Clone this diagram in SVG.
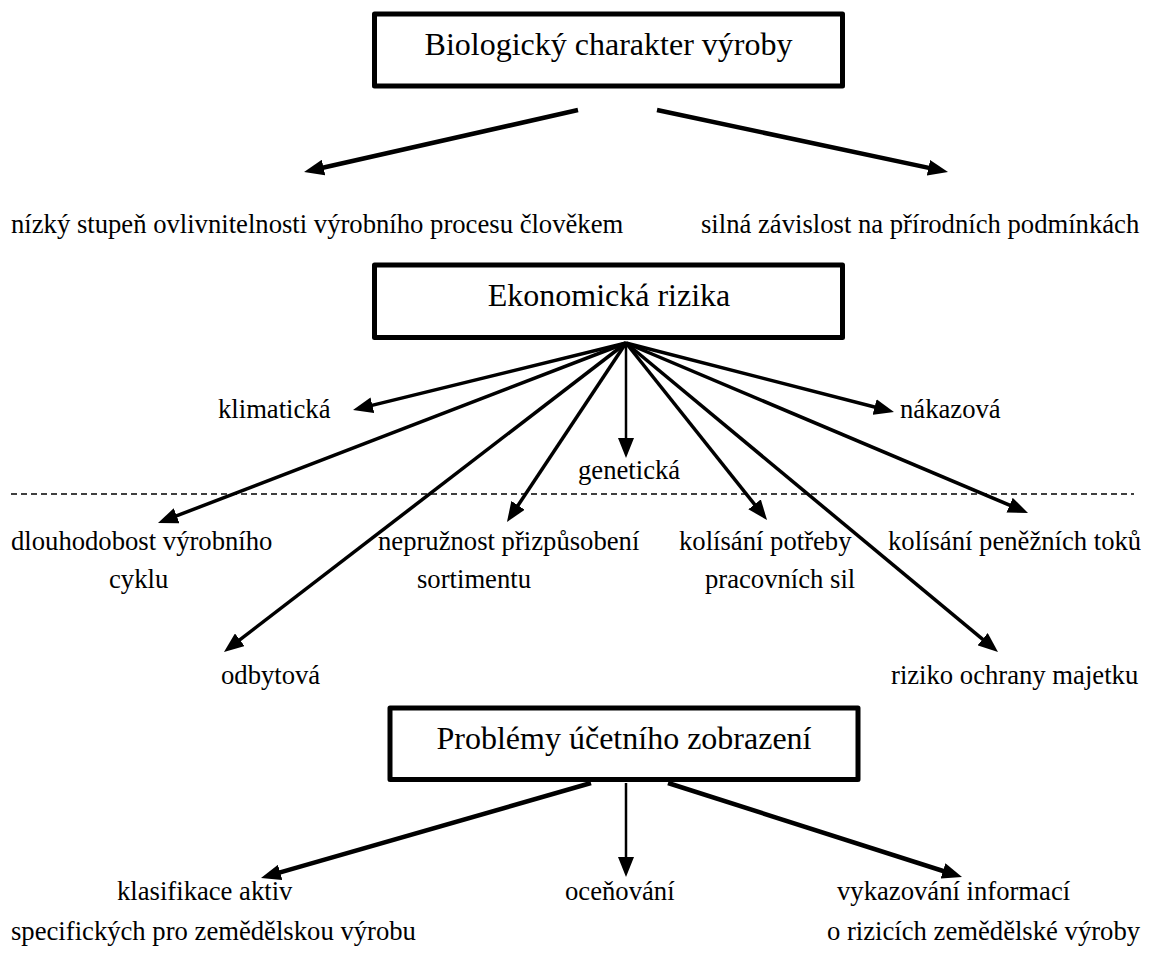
<svg xmlns="http://www.w3.org/2000/svg" width="1151" height="953" viewBox="0 0 1151 953">
<style>
.box{fill:#fff;stroke:#000;stroke-width:5;stroke-linejoin:round}
.title{font-family:"Liberation Serif","Times New Roman",serif;font-size:32px;fill:#000;text-anchor:middle}
.lbl{font-family:"Liberation Serif","Times New Roman",serif;font-size:26.67px;fill:#000}
.c{stroke:#000;fill:none;stroke-width:3.5;marker-end:url(#ah)}
.thick{stroke-width:4.5}
.thin{stroke-width:2.5}
.dash{stroke:#000;stroke-width:1.5;stroke-dasharray:6 4;fill:none}
</style>
<defs>
<marker id="ah" viewBox="0 0 20 16" refX="10" refY="8" markerWidth="20" markerHeight="16" markerUnits="userSpaceOnUse" orient="auto">
<path d="M0,0 L20,8 L0,16 z" fill="#000"/>
</marker>
</defs>
<g id="connectors">
<line class="c thick" x1="578" y1="110" x2="313.8" y2="169.8"/>
<line class="c thick" x1="657" y1="110" x2="938.2" y2="169.9"/>
<line class="c" x1="626" y1="343" x2="362.7" y2="407.6"/>
<line class="c" x1="626" y1="343" x2="167.3" y2="519.4"/>
<line class="c" x1="626" y1="343" x2="231.9" y2="645.9"/>
<line class="c" x1="626" y1="343" x2="512.5" y2="513.7"/>
<line class="c thin" x1="626" y1="343" x2="626" y2="448"/>
<line class="c" x1="626" y1="343" x2="760.8" y2="512.2"/>
<line class="c" x1="626" y1="343" x2="990.3" y2="645.6"/>
<line class="c" x1="626" y1="343" x2="1018.8" y2="509.1"/>
<line class="c" x1="626" y1="343" x2="884.3" y2="409.5"/>
<line class="c thick" x1="591" y1="783" x2="270.6" y2="875.2"/>
<line class="c thin" x1="626" y1="783" x2="626" y2="867"/>
<line class="c thick" x1="668" y1="783" x2="952.5" y2="874"/>
<line class="dash" x1="11" y1="494" x2="1134" y2="494"/>
</g>
<g id="n-bio">
<rect class="box" x="374.5" y="14" width="468" height="72"/>
<text class="title" x="608.5" y="55">Biologický charakter výroby</text>
</g>
<g id="n-nizky"><text class="lbl" x="11" y="233">nízký stupeň ovlivnitelnosti výrobního procesu člověkem</text></g>
<g id="n-silna"><text class="lbl" x="701" y="233">silná závislost na přírodních podmínkách</text></g>
<g id="n-eko">
<rect class="box" x="374.5" y="265" width="468" height="72.5"/>
<text class="title" x="609" y="306">Ekonomická rizika</text>
</g>
<g id="n-klim"><text class="lbl" x="218" y="418">klimatická</text></g>
<g id="n-nakaz"><text class="lbl" x="900" y="418">nákazová</text></g>
<g id="n-genet"><text class="lbl" x="578" y="479">genetická</text></g>
<g id="n-dlouho"><text class="lbl" x="11" y="550">dlouhodobost výrobního</text><text class="lbl" x="109" y="588">cyklu</text></g>
<g id="n-nepruz"><text class="lbl" x="378" y="550">nepružnost přizpůsobení</text><text class="lbl" x="417" y="588">sortimentu</text></g>
<g id="n-kolpot"><text class="lbl" x="679" y="550">kolísání potřeby</text><text class="lbl" x="705" y="588">pracovních sil</text></g>
<g id="n-kolpen"><text class="lbl" x="888" y="550">kolísání peněžních toků</text></g>
<g id="n-odbyt"><text class="lbl" x="221" y="684">odbytová</text></g>
<g id="n-riziko"><text class="lbl" x="891" y="684">riziko ochrany majetku</text></g>
<g id="n-probl">
<rect class="box" x="390" y="708" width="468" height="71.5"/>
<text class="title" x="624" y="749">Problémy účetního zobrazení</text>
</g>
<g id="n-klasif"><text class="lbl" x="117" y="900">klasifikace aktiv</text><text class="lbl" x="11" y="940">specifických pro zemědělskou výrobu</text></g>
<g id="n-ocen"><text class="lbl" x="565" y="900">oceňování</text></g>
<g id="n-vykaz"><text class="lbl" x="837" y="900">vykazování informací</text><text class="lbl" x="827" y="940">o rizicích zemědělské výroby</text></g>
</svg>
